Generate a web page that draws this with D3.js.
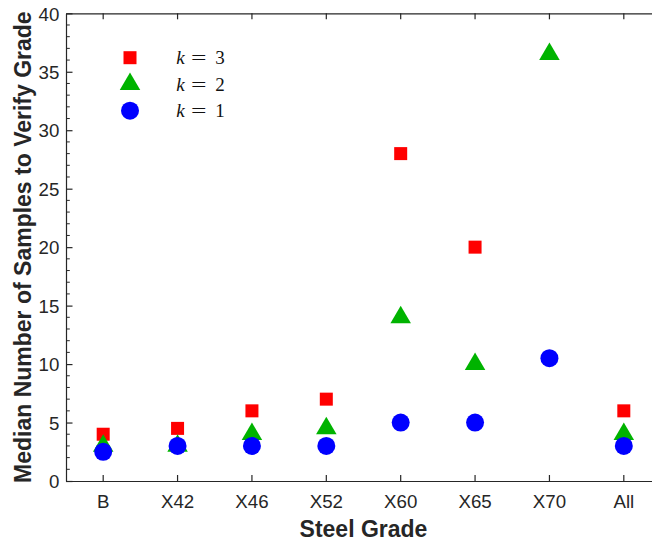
<!DOCTYPE html>
<html>
<head>
<meta charset="utf-8">
<script src="https://cdn.jsdelivr.net/npm/d3@7"></script>
<style>
  html, body { margin: 0; padding: 0; background: #fff; }
  svg { display: block; }
</style>
</head>
<body>
<script>
// ---- data ----
const categories = ["B", "X42", "X46", "X52", "X60", "X65", "X70", "All"];
const k3 = [4, 4.5, 6, 7, 28, 20, null, 6];
const k2 = [3, 3, 4, 4.5, 14, 10, 36.5, 4];
const k1 = [2.5, 3, 3, 3, 5, 5, 10.5, 3];
const yTicks = [0, 5, 10, 15, 20, 25, 30, 35, 40];
const legendLabels = ["3", "2", "1"];

(function () {
const W = 652, H = 541;
const pLeft = 66, pRight = 661, pTop = 13.3, pBottom = 481;
const axisColor = "#262626";
const font = "'Liberation Sans', Arial, Helvetica, sans-serif";

const svg = d3.select("body").append("svg").attr("width", W).attr("height", H)
  .style("overflow", "hidden");
svg.append("rect").attr("width", W).attr("height", H).attr("fill", "#fff");

const x = d3.scaleBand().domain(categories).range([pLeft, pRight]).padding(0);
const y = d3.scaleLinear().domain([0, 40]).range([pBottom, pTop]);
const cx = c => x(c) + x.bandwidth() / 2;

// ---- axes ----
const gx = svg.append("g").attr("transform", `translate(0,${pBottom})`)
  .call(d3.axisBottom(x).tickSizeInner(-6).tickSizeOuter(0).tickPadding(14.2));
const gxt = svg.append("g").attr("transform", `translate(0,${pTop})`)
  .call(d3.axisTop(x).tickSizeInner(-6).tickSizeOuter(0).tickFormat(""));
const gy = svg.append("g").attr("transform", `translate(${pLeft},0)`)
  .call(d3.axisLeft(y).tickValues(yTicks).tickSizeInner(-6.5).tickSizeOuter(0).tickPadding(6.7));

// minor ticks
const minor = d3.range(0, 41).filter(v => v % 5 !== 0);
svg.append("g").selectAll("line").data(minor).join("line")
  .attr("x1", pLeft).attr("x2", pLeft + 3.8)
  .attr("y1", d => y(d)).attr("y2", d => y(d))
  .attr("stroke", axisColor).attr("stroke-width", 1);

[gx, gxt, gy].forEach(g => {
  g.selectAll("path.domain").attr("stroke", axisColor).attr("stroke-width", 1.2);
  g.selectAll(".tick line").attr("stroke", axisColor).attr("stroke-width", 1.2);
  g.selectAll(".tick text").attr("fill", axisColor)
    .style("font-family", font).style("font-size", "18.7px");
});
gy.selectAll(".tick text").attr("dy", "0.36em");

// ---- axis titles ----
svg.append("text")
  .attr("x", (pLeft + pRight) / 2).attr("y", 536.5)
  .attr("text-anchor", "middle")
  .style("font-family", font).style("font-weight", "bold").style("font-size", "23px")
  .attr("fill", axisColor)
  .text("Steel Grade");
svg.append("text")
  .attr("transform", `translate(30.5,${(pTop + pBottom) / 2}) rotate(-90)`)
  .attr("text-anchor", "middle")
  .style("font-family", font).style("font-weight", "bold").style("font-size", "23px")
  .attr("fill", axisColor)
  .text("Median Number of Samples to Verify Grade");

// ---- markers ----
const RED = "#ff0000", GREEN = "#00b300", BLUE = "#0000ff";
const sq = 13, triW = 20.5, triH = 17.5, rad = 9;
const triPath = (px, py) => {
  const a = py - triH * 2 / 3, b = py + triH / 3;
  return `M${px},${a}L${px + triW / 2},${b}L${px - triW / 2},${b}Z`;
};

const pts = (vals) => categories.map((c, i) => ({c, v: vals[i]})).filter(d => d.v != null);

svg.append("g").selectAll("rect").data(pts(k3)).join("rect")
  .attr("x", d => cx(d.c) - sq / 2).attr("y", d => y(d.v) - sq / 2)
  .attr("width", sq).attr("height", sq).attr("fill", RED);

svg.append("g").selectAll("path").data(pts(k2)).join("path")
  .attr("d", d => triPath(cx(d.c), y(d.v))).attr("fill", GREEN);

svg.append("g").selectAll("circle").data(pts(k1)).join("circle")
  .attr("cx", d => cx(d.c)).attr("cy", d => y(d.v)).attr("r", rad).attr("fill", BLUE);

// ---- legend ----
const lg = svg.append("g");
const lx = 130;
const rowsY = [57.7, 84.2, 110.7];
lg.append("rect").attr("x", lx - sq / 2).attr("y", rowsY[0] - sq / 2)
  .attr("width", sq).attr("height", sq).attr("fill", RED);
lg.append("path").attr("d", triPath(lx, rowsY[1])).attr("fill", GREEN);
lg.append("circle").attr("cx", lx).attr("cy", rowsY[2]).attr("r", rad).attr("fill", BLUE);

const serif = "'Liberation Serif','Times New Roman',serif";
legendLabels.forEach((lab, i) => {
  const by = rowsY[i] + 6.6;
  const t = lg.append("g").attr("fill", "#111")
    .style("font-family", serif).style("font-size", "19px");
  t.append("text").attr("x", 180.5).attr("y", by).attr("text-anchor", "middle")
    .style("font-style", "italic").text("k");
  t.append("text").attr("x", 191).attr("y", by)
    .attr("textLength", 15.5).attr("lengthAdjust", "spacingAndGlyphs").text("=");
  t.append("text").attr("x", 220).attr("y", by).attr("text-anchor", "middle").text(lab);
});
})();
</script>
</body>
</html>
